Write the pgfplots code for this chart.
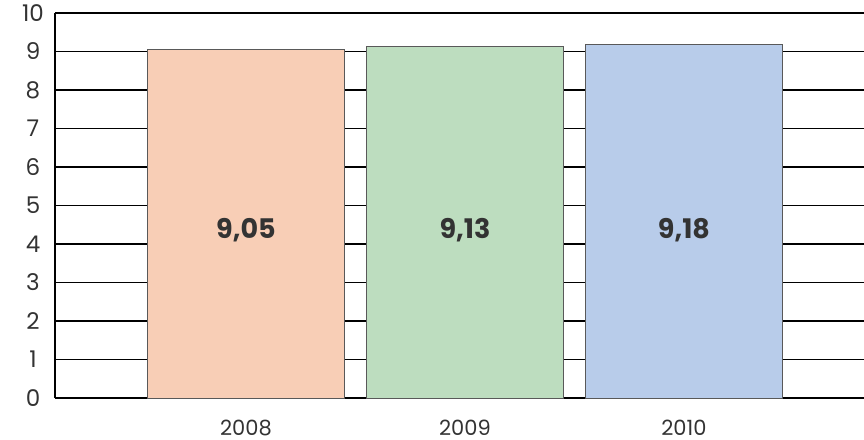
\documentclass[border=0pt]{standalone}
\usepackage{pgfplots}
\pgfplotsset{compat=1.18}
\usepackage{fontspec}
\setmainfont{Poppins}
\definecolor{peach}{HTML}{F8CEB6}
\definecolor{mint}{HTML}{BDDDBF}
\definecolor{sky}{HTML}{B8CCEA}
\begin{document}
\begin{tikzpicture}[x=1pt,y=1pt]
\begin{axis}[
  scale only axis,
  width=404.5pt, height=192.5pt,
  at={(0,0)}, anchor=south west,
  xmin=-0.872, xmax=2.822,
  ymin=0, ymax=10,
  axis x line=bottom, axis y line=left,
  axis line style={-, black, line width=0.7pt},
  xtick={0,1,2}, xticklabels={2008,2009,2010},
  ytick={0,1,...,10},
  major tick length=0pt,
  ymajorgrids, grid style={black, line width=0.6pt},
  tick label style={text=black!80},
  xticklabel style={font=\fontsize{10.5}{12}\selectfont, yshift=-7.5pt},
  yticklabel style={font=\fontsize{11.5}{13}\selectfont, anchor=center, xshift=-11pt},
  /pgf/number format/assume math mode=true,
  bar width=0.9,
  clip=false,
]
\addplot[ybar, draw=black!65, line width=0.5pt, fill=peach] coordinates {(0,9.05)};
\addplot[ybar, draw=black!65, line width=0.5pt, fill=mint] coordinates {(1,9.13)};
\addplot[ybar, draw=black!65, line width=0.5pt, fill=sky] coordinates {(2,9.18)};
\addplot[only marks, mark=none, point meta=explicit symbolic,
  nodes near coords, nodes near coords align={center},
  every node near coord/.append style={font=\fontsize{13.5}{15}\selectfont\bfseries, text=black!80, anchor=center}]
  coordinates {(0,4.35) [9,05] (1,4.35) [9,13] (2,4.35) [9,18]};
\end{axis}
\pgfresetboundingbox
\path (-27.5pt,-21pt) rectangle (404.5pt,199pt);
\end{tikzpicture}
\end{document}
